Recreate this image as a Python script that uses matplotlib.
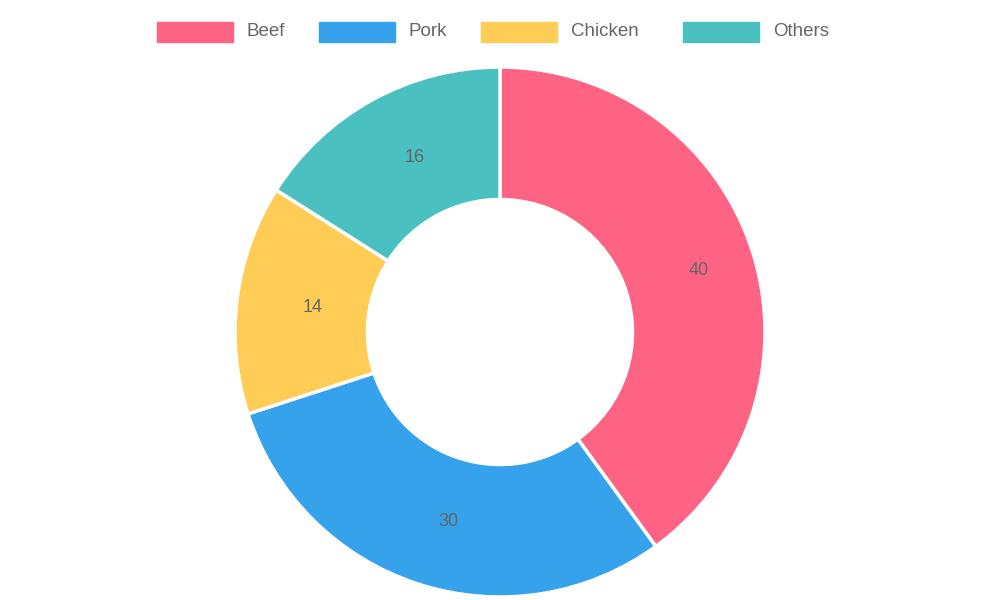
import matplotlib.pyplot as plt
from matplotlib.patches import Rectangle

labels = ['Beef', 'Pork', 'Chicken', 'Others']
values = [40, 30, 14, 16]
colors = ['#ff6384', '#36a2eb', '#ffcd56', '#4bc0c0']

plt.rcParams['font.family'] = ['Liberation Sans', 'DejaVu Sans']

fig = plt.figure(figsize=(10, 6), dpi=100)
ax = fig.add_axes([0, 0, 1, 1])
ax.set_xlim(0, 1000)
ax.set_ylim(0, 600)
ax.set_aspect('equal')
ax.axis('off')

cx, cy, r = 500, 268, 265
ax.pie(values, colors=colors, startangle=90, counterclock=False,
       center=(cx, cy), radius=r, labels=[str(v) for v in values],
       labeldistance=0.75,
       textprops=dict(color='#666666', fontsize=13),
       wedgeprops=dict(width=r * 0.5, edgecolor='white', linewidth=2.5))
ax.set_xlim(0, 1000)
ax.set_ylim(0, 600)

# legend drawn by hand, like Chart.js
box_x = [157, 319, 481, 683]
for x, lab, col in zip(box_x, labels, colors):
    ax.add_patch(Rectangle((x, 600 - 42), 76, 20, color=col))
    ax.text(x + 90, 600 - 32, lab, color='#666666', fontsize=13.5, va='center')

fig.savefig('out.png', dpi=100)
